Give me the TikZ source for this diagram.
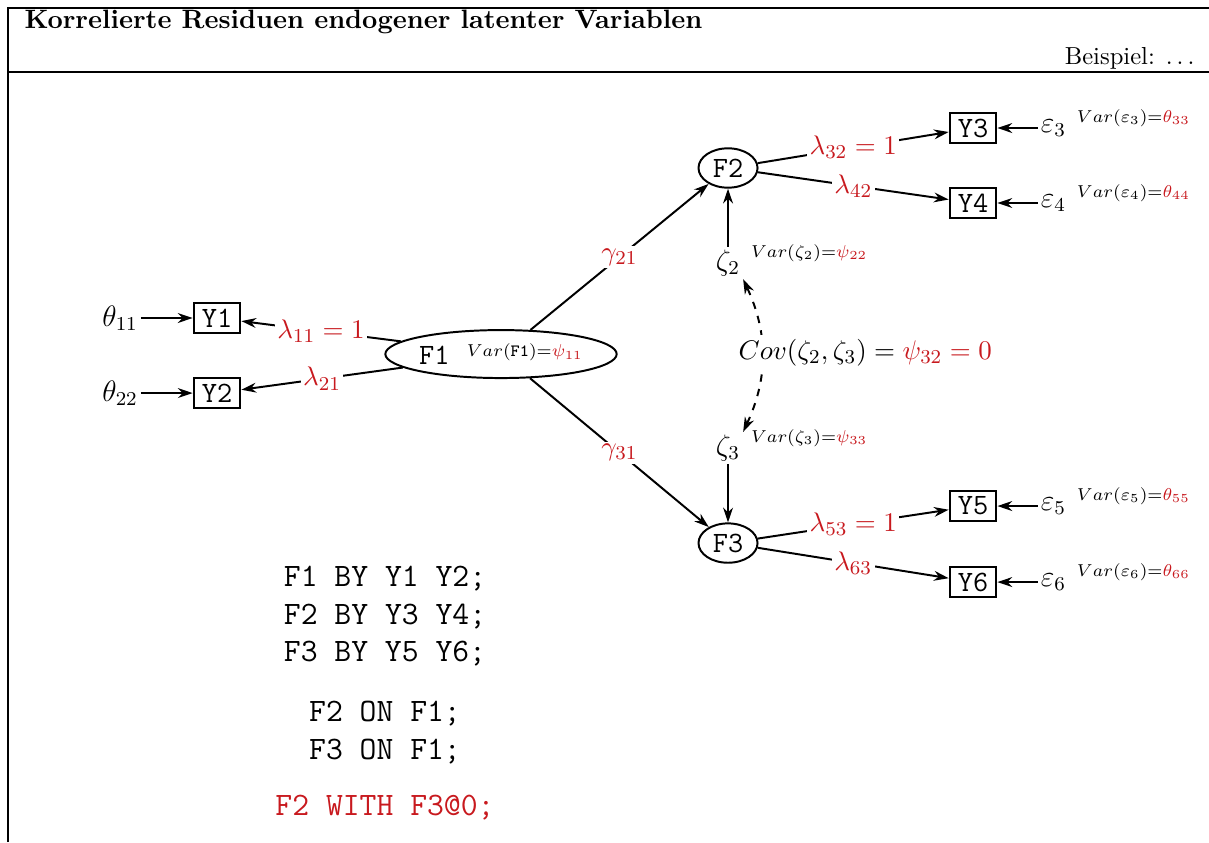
\documentclass[tikz,border=0pt]{standalone}
\usepackage{tikz}
\usetikzlibrary{positioning,arrows.meta,shapes.geometric}
\definecolor{parred}{HTML}{C8191E}

\tikzset{
  manifest/.style={draw,thick,font=\large\ttfamily,minimum width=19pt,minimum height=12.5pt,inner sep=1.5pt},
  latent/.style={draw,thick,ellipse,font=\large\ttfamily,minimum width=24pt,minimum height=16pt,inner sep=1pt},
  regpath/.style={thick,-{Stealth[length=6pt,width=4pt]}},
  coef/.style={midway,fill=white,text=parred,font=\fontsize{11pt}{13pt}\selectfont,inner sep=1pt},
  errlab/.style={font=\large,inner sep=1pt},
  varlab/.style={font=\scriptsize,inner sep=0pt},
}

\begin{document}
\begin{tikzpicture}
\useasboundingbox (0,0) rectangle (17.271,12.029);
% frame and heading
\draw[line width=1pt] (0.114,0) -- (0.114,11.914) -- (17.271,11.914);
\draw[line width=1pt] (0.114,11.0) -- (17.271,11.0);
\node[anchor=west,inner sep=0pt,font=\fontsize{10.8pt}{13pt}\selectfont\bfseries] (title) at (0.343,11.714) {Korrelierte Residuen endogener latenter Variablen};
\node[anchor=east,inner sep=0pt] (example) at (17.071,11.2) {Beispiel: $\ldots$};

% latent factors
\node[latent,inner xsep=0pt,minimum width=94pt,minimum height=19.5pt] (F1) at (7.157,6.971)
  {F1\hspace{7pt}\raisebox{3pt}{\scriptsize\rmfamily$Var(\texttt{F1})$=\textcolor{parred}{$\psi_{11}$}}};
\node[latent] (F2) at (10.4,9.629) {F2};
\node[latent] (F3) at (10.4,4.271) {F3};

% indicators
\node[manifest] (Y1) at (3.1,7.486) {Y1};
\node[manifest] (Y2) at (3.1,6.414) {Y2};
\node[manifest] (Y3) at (13.9,10.2) {Y3};
\node[manifest] (Y4) at (13.9,9.129) {Y4};
\node[manifest] (Y5) at (13.9,4.8) {Y5};
\node[manifest] (Y6) at (13.9,3.714) {Y6};

% residuals of the indicators
\node[errlab,left=0.74 of Y1] (t11) {$\theta_{11}$};
\node[errlab,left=0.74 of Y2] (t22) {$\theta_{22}$};
\foreach \i in {3,...,6}{
  \node[errlab,right=0.58 of Y\i] (e\i) {$\varepsilon_\i$};
  \node[varlab,right=3pt of e\i.east,yshift=4pt] (ve\i) {$Var(\varepsilon_\i)$=\textcolor{parred}{$\theta_{\i\i}$}};
  \draw[regpath] (e\i) -- (Y\i);
}
\draw[regpath] (t11) -- (Y1);
\draw[regpath] (t22) -- (Y2);

% structural residuals
\node[errlab] (z2) at (10.4,8.271) {$\zeta_2$};
\node[errlab] (z3) at (10.4,5.629) {$\zeta_3$};
\node[varlab,right=3pt of z2.east,yshift=4pt] (vz2) {$Var(\zeta_2)$=\textcolor{parred}{$\psi_{22}$}};
\node[varlab,right=3pt of z3.east,yshift=4pt] (vz3) {$Var(\zeta_3)$=\textcolor{parred}{$\psi_{33}$}};
\draw[regpath] (z2) -- (F2);
\draw[regpath] (z3) -- (F3);
\draw[thick,dashed,{Stealth[length=6pt,width=4pt]}-{Stealth[length=6pt,width=4pt]}] (z3.north east) to[bend right=25] (z2.south east);
\node[fill=white,inner sep=2pt,font=\fontsize{11pt}{13pt}\selectfont] (cov) at (12.36,6.986) {$Cov(\zeta_2,\zeta_3)=\textcolor{parred}{\psi_{32}=0}$};

% loadings and regressions
\draw[regpath] (F1) -- node[coef] {$\lambda_{11}=1$} (Y1);
\draw[regpath] (F1) -- node[coef] {$\lambda_{21}$} (Y2);
\draw[regpath] (F1) -- node[coef] {$\gamma_{21}$} (F2);
\draw[regpath] (F1) -- node[coef] {$\gamma_{31}$} (F3);
\draw[regpath] (F2) -- node[coef] {$\lambda_{32}=1$} (Y3);
\draw[regpath] (F2) -- node[coef] {$\lambda_{42}$} (Y4);
\draw[regpath] (F3) -- node[coef] {$\lambda_{53}=1$} (Y5);
\draw[regpath] (F3) -- node[coef] {$\lambda_{63}$} (Y6);

% model syntax
\node[anchor=north,align=center,inner sep=0pt,font=\fontsize{13.3pt}{15.3pt}\selectfont\ttfamily] (syntax) at (5.5,3.95)
  {F1 BY Y1 Y2;\\ F2 BY Y3 Y4;\\ F3 BY Y5 Y6;\\[9pt]
   F2 ON F1;\\ F3 ON F1;\\[7.5pt]
   \textcolor{parred}{F2 WITH F3@0;}};
\end{tikzpicture}
\end{document}
